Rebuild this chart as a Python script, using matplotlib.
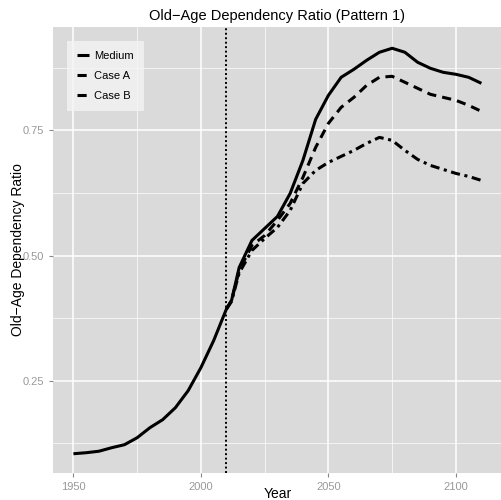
import matplotlib
matplotlib.use("Agg")
import matplotlib.pyplot as plt
import numpy as np

plt.rcParams['font.family'] = ['Liberation Sans', 'DejaVu Sans']

# Old-age dependency ratio
years_hist = [1950, 1955, 1960, 1965, 1970, 1975, 1980, 1985, 1990, 1995, 2000, 2005, 2010]
medium_hist = [0.104, 0.106, 0.109, 0.116, 0.122, 0.136, 0.156, 0.172, 0.196, 0.230, 0.276, 0.330, 0.393]

years_proj = [2010, 2012, 2015, 2020, 2025, 2030, 2035, 2040, 2045, 2050, 2055, 2060,
              2065, 2070, 2075, 2080, 2085, 2090, 2095, 2100, 2105, 2110]
medium_proj = [0.393, 0.410, 0.476, 0.530, 0.554, 0.578, 0.624, 0.690, 0.772, 0.820, 0.856, 0.872,
               0.890, 0.906, 0.914, 0.906, 0.886, 0.874, 0.866, 0.862, 0.856, 0.844]
case_a = [0.393, 0.410, 0.470, 0.520, 0.540, 0.570, 0.604, 0.656, 0.716, 0.764, 0.796, 0.816,
          0.840, 0.856, 0.858, 0.846, 0.834, 0.822, 0.816, 0.810, 0.800, 0.788]
case_b = [0.393, 0.408, 0.465, 0.510, 0.534, 0.556, 0.590, 0.644, 0.670, 0.686, 0.698, 0.710,
          0.724, 0.736, 0.730, 0.710, 0.692, 0.680, 0.672, 0.664, 0.658, 0.650]

base_year = 2010

fig = plt.figure(figsize=(5.02, 5.00), dpi=100)
ax = fig.add_axes([0.1056, 0.054, 0.894, 0.892])
ax.set_facecolor('#dadada')

# ggplot-like grid
ax.set_xticks([1950, 2000, 2050, 2100])
ax.set_xticks([1975, 2025, 2075], minor=True)
ax.set_yticks([0.25, 0.50, 0.75])
ax.set_yticks([0.125, 0.375, 0.625, 0.875], minor=True)
ax.grid(which='major', color='white', lw=1.1)
ax.grid(which='minor', color='white', lw=0.5)
ax.set_axisbelow(True)
for s in ax.spines.values():
    s.set_visible(False)

lw = 2.2
ax.plot(years_hist + years_proj[1:], medium_hist + medium_proj[1:], color='black', lw=lw,
        solid_capstyle='butt', label='Medium')
ax.plot(years_proj, case_a, color='black', lw=lw, dashes=(3, 2), label='Case A')
ax.plot(years_proj, case_b, color='black', lw=lw, dashes=(3, 1.5, 1, 1.5), label='Case B')
ax.axvline(base_year, color='black', lw=1.4, ls=(0, (1, 1.3)))

ax.set_xlim(1942, 2118)
ax.set_ylim(0.0655, 0.9565)
ax.set_yticklabels(['0.25', '0.50', '0.75'])

ax.tick_params(which='major', length=3, color='#888888', labelcolor='#999999', labelsize=8, width=0.8)
ax.tick_params(which='minor', length=0)

ax.set_title('Old\u2212Age Dependency Ratio (Pattern 1)', fontsize=10.5, pad=5)
ax.set_xlabel('Year', fontsize=10)
ax.xaxis.set_label_coords(0.5, -0.031)
ax.set_ylabel('Old\u2212Age Dependency Ratio', fontsize=10)
ax.yaxis.set_label_coords(-0.063, 0.5)

leg = ax.legend(loc='upper left', bbox_to_anchor=(0.018, 0.982), fontsize=8, handlelength=1.1,
                frameon=True, fancybox=False, borderpad=0.9, labelspacing=0.9, handletextpad=0.5)
leg.get_frame().set_facecolor('#f4f4f4')
leg.get_frame().set_edgecolor('none')

fig.savefig('out.png', dpi=100)
